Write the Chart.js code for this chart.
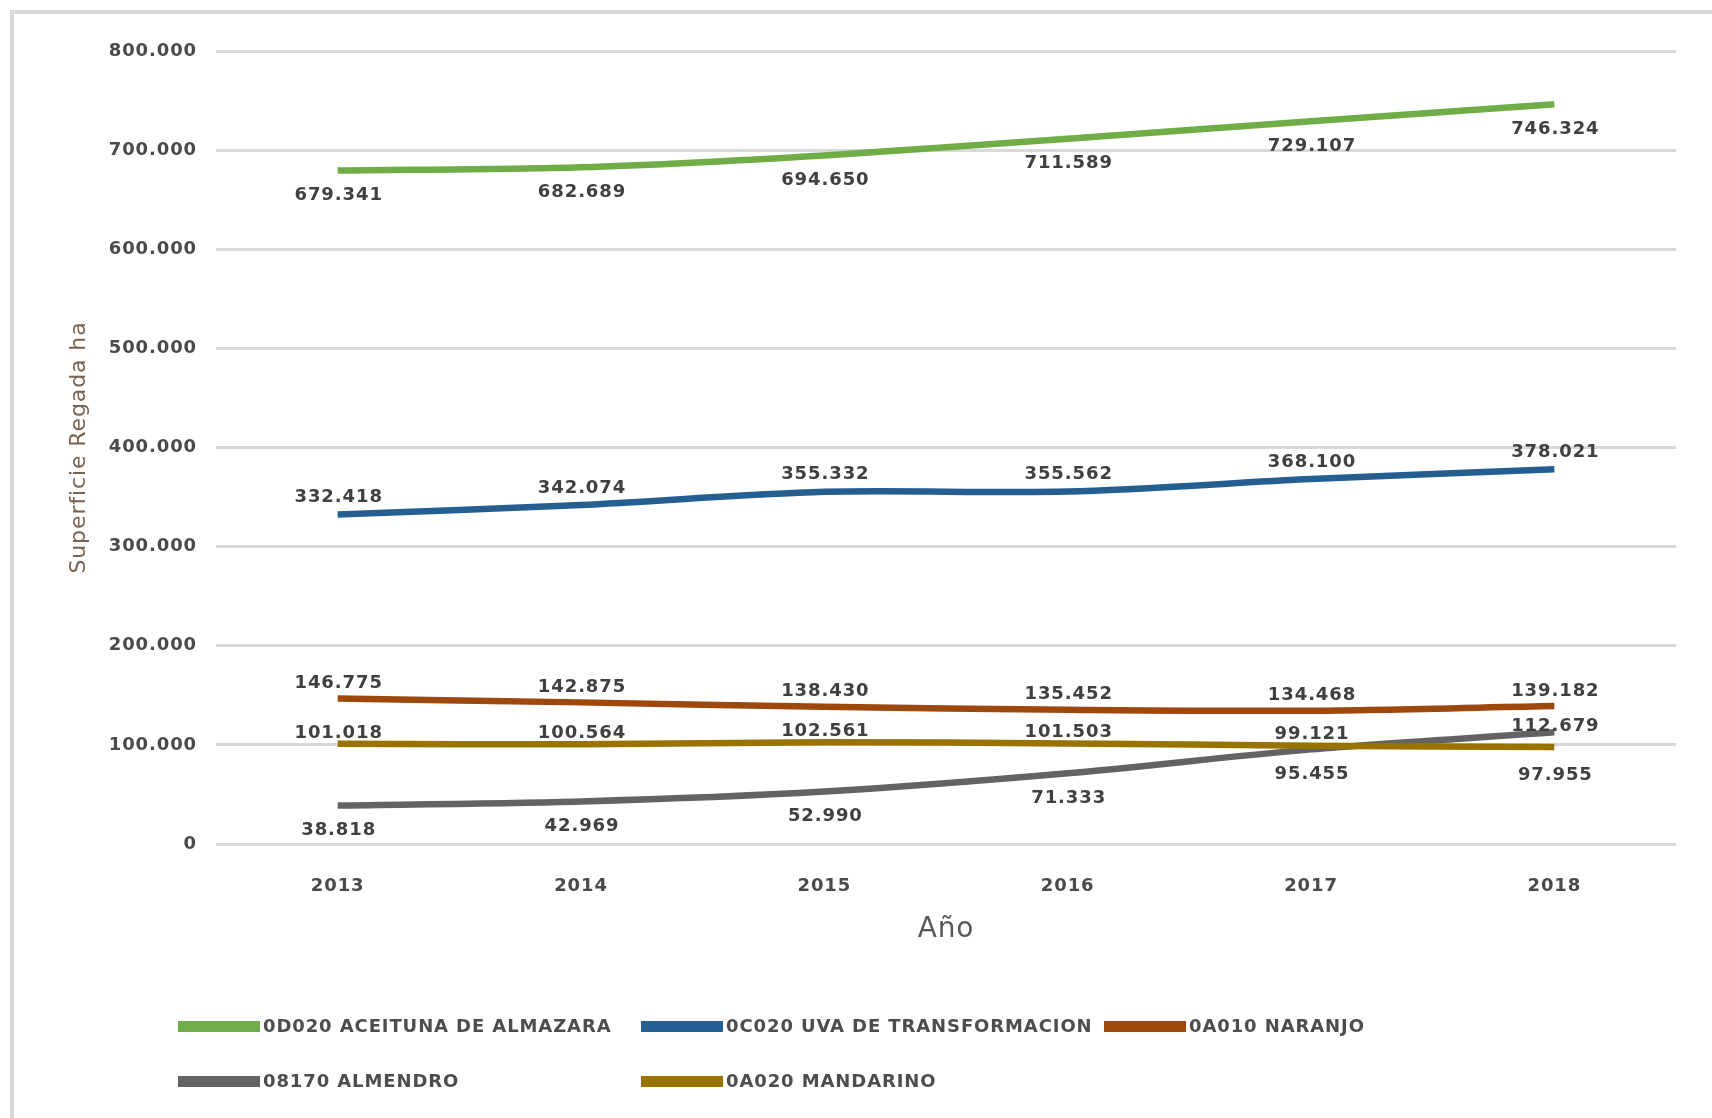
<!DOCTYPE html>
<html>
<head>
<meta charset="utf-8">
<script src="https://cdn.jsdelivr.net/npm/chart.js@4.4.1/dist/chart.umd.min.js"></script>
<style>
html,body{margin:0;padding:0;background:#fff;}
#wrap{width:1712px;height:1118px;position:relative;}
</style>
</head>
<body>
<div id="wrap"><canvas id="c" width="1712" height="1118"></canvas></div>
<script>
// ---- data ----
const years = ['2013', '2014', '2015', '2016', '2017', '2018'];
const aceituna  = [679341, 682689, 694650, 711589, 729107, 746324];
const uva       = [332418, 342074, 355332, 355562, 368100, 378021];
const naranjo   = [146775, 142875, 138430, 135452, 134468, 139182];
const almendro  = [38818, 42969, 52990, 71333, 95455, 112679];
const mandarino = [101018, 100564, 102561, 101503, 99121, 97955];
const seriesNames = ['0D020 ACEITUNA DE ALMAZARA', '0C020 UVA DE TRANSFORMACION', '0A010 NARANJO', '08170 ALMENDRO', '0A020 MANDARINO'];
const yTicksMin = 0, yTicksMax = 800000, yTicksStep = 100000;
const yTitle = 'Superficie Regada ha';
const xTitle = 'Año';

// ---- helpers / styling ----
const FONT = '"DejaVu Sans"';
const SPACING = '0.9px';
function fmt(v) { return String(Math.round(v)).replace(/\B(?=(\d{3})+(?!\d))/g, '.'); }

Chart.defaults.font.family = FONT;

const framePlugin = {
  id: 'frame',
  beforeDraw(chart) {
    const ctx = chart.ctx;
    ctx.save();
    ctx.fillStyle = '#ffffff';
    ctx.fillRect(0, 0, chart.width, chart.height);
    ctx.fillStyle = '#d9d9d9';
    ctx.fillRect(10, 10, chart.width, 4);
    ctx.fillRect(10, 10, 4, chart.height);
    ctx.restore();
    ctx.letterSpacing = SPACING;
  }
};

const valueLabels = {
  id: 'valueLabels',
  afterDatasetsDraw(chart) {
    const ctx = chart.ctx;
    ctx.save();
    ctx.font = 'bold 18px ' + FONT;
    ctx.letterSpacing = SPACING;
    ctx.fillStyle = '#404040';
    ctx.textAlign = 'center';
    ctx.textBaseline = 'middle';
    chart.data.datasets.forEach((ds, i) => {
      const meta = chart.getDatasetMeta(i);
      meta.data.forEach((pt, j) => {
        const pos = ds.labelPos[j];
        const dy = pos === 'above' ? -ds.labelOffset.above : ds.labelOffset.below;
        ctx.fillText(fmt(ds.data[j]), pt.x + 1, pt.y + dy);
      });
    });
    ctx.restore();
  }
};

const columnLegend = {
  id: 'columnLegend',
  afterDraw(chart) {
    const ctx = chart.ctx;
    ctx.save();
    ctx.font = 'bold 18px ' + FONT;
    ctx.letterSpacing = SPACING;
    ctx.textBaseline = 'middle';
    ctx.textAlign = 'left';
    const cols = [178, 641, 1104];
    const rows = [1026, 1081];
    chart.data.datasets.forEach((ds, i) => {
      const x = cols[i % 3], y = rows[Math.floor(i / 3)];
      ctx.fillStyle = ds.borderColor;
      ctx.fillRect(x, y - 5, 82, 11);
      ctx.fillStyle = '#4d4d4d';
      ctx.fillText(ds.label, x + 85, y + 1);
    });
    ctx.restore();
  }
};

const all6 = (p) => [p, p, p, p, p, p];

new Chart(document.getElementById('c'), {
  type: 'line',
  data: {
    labels: years,
    datasets: [
      { label: seriesNames[0], data: aceituna,  borderColor: '#70AD47', backgroundColor: '#70AD47', order: 5,
        labelPos: all6('below'), labelOffset: { above: 16, below: 25 } },
      { label: seriesNames[1], data: uva,       borderColor: '#255E91', backgroundColor: '#255E91', order: 4,
        labelPos: all6('above'), labelOffset: { above: 17, below: 23 } },
      { label: seriesNames[2], data: naranjo,   borderColor: '#9E480E', backgroundColor: '#9E480E', order: 3,
        labelPos: all6('above'), labelOffset: { above: 15, below: 23 } },
      { label: seriesNames[3], data: almendro,  borderColor: '#636363', backgroundColor: '#636363', order: 2,
        labelPos: ['below', 'below', 'below', 'below', 'below', 'above'], labelOffset: { above: 6, below: 25 } },
      { label: seriesNames[4], data: mandarino, borderColor: '#997300', backgroundColor: '#997300', order: 1,
        labelPos: ['above', 'above', 'above', 'above', 'above', 'below'], labelOffset: { above: 11, below: 28 } }
    ]
  },
  options: {
    responsive: false,
    animation: false,
    devicePixelRatio: 1,
    layout: { padding: { left: 50, right: 36, top: 51, bottom: 164 } },
    plugins: { legend: { display: false }, tooltip: { enabled: false } },
    elements: {
      point: { radius: 0, hoverRadius: 0 },
      line: { tension: 0.3, borderWidth: 6.5, borderCapStyle: 'butt', fill: false }
    },
    scales: {
      x: {
        offset: true,
        grid: { display: false },
        border: { display: false },
        ticks: { padding: 24, color: '#4a4a4a', font: { size: 18, weight: 'bold' }, maxRotation: 0 },
        title: { display: true, text: xTitle, color: '#595959', font: { size: 28 }, padding: { top: 0, bottom: 7 } },
        afterFit(s) { s.height = 110; }
      },
      y: {
        min: yTicksMin,
        max: yTicksMax,
        grid: { color: '#d9d9d9', lineWidth: 3, drawTicks: false },
        border: { display: false },
        ticks: { stepSize: yTicksStep, padding: 19, color: '#4a4a4a', font: { size: 18, weight: 'bold' }, callback: (v) => fmt(v) },
        title: { display: true, text: yTitle, color: '#7a6250', font: { size: 22 }, padding: { top: 16, bottom: 0 } },
        afterFit(s) { s.width = 166; }
      }
    }
  },
  plugins: [framePlugin, valueLabels, columnLegend]
});
</script>
</body>
</html>
